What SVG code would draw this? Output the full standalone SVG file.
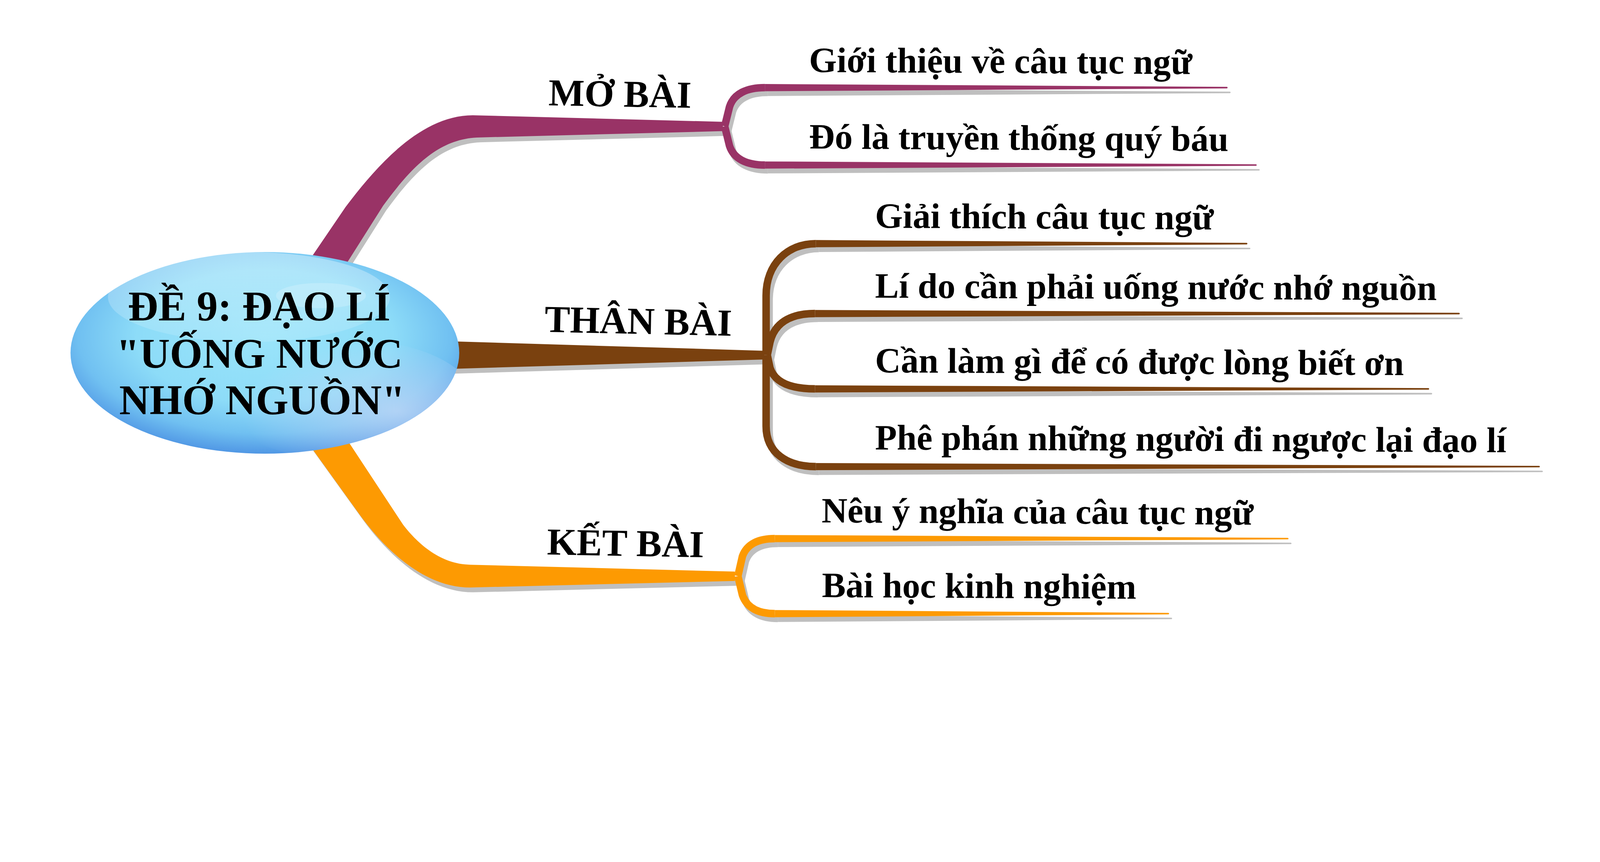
<svg xmlns="http://www.w3.org/2000/svg" xmlns:xlink="http://www.w3.org/1999/xlink" width="5334" height="2206" viewBox="0 0 5334 2206" style="max-width:100vw;height:auto;display:block">
<style>
.t{font-family:"Liberation Serif","Times New Roman","DejaVu Serif",serif;font-weight:bold;fill:#000}
.center{font-size:140px;text-anchor:middle}
.lbl{font-size:127px}
.leaf{font-size:119px}
.arm{fill:none;stroke:currentColor;stroke-width:25;stroke-linejoin:round}
.bar{fill:currentColor;stroke:none}
</style>
<defs>
<radialGradient id="gBase" cx="0.5" cy="0.42" r="0.6">
<stop offset="0" stop-color="#9ae4fa"/>
<stop offset="0.55" stop-color="#8ddcf8"/>
<stop offset="0.8" stop-color="#70c0f1"/>
<stop offset="1" stop-color="#4a8fe2"/>
</radialGradient>
<linearGradient id="gHi" x1="0" y1="0" x2="0" y2="1">
<stop offset="0" stop-color="#ffffff" stop-opacity="0.35"/>
<stop offset="1" stop-color="#ffffff" stop-opacity="0.12"/>
</linearGradient>
<radialGradient id="gSheen" cx="0.7" cy="0.6" r="0.6">
<stop offset="0" stop-color="#c2d9f7" stop-opacity="0.8"/>
<stop offset="1" stop-color="#c2d9f7" stop-opacity="0"/>
</radialGradient>
<clipPath id="cEll"><ellipse cx="883" cy="1176" rx="648" ry="336"/></clipPath>
<g id="brMo">
<path class="bar" d="M975 950 L1152 690 C1250 560 1400 384 1576 384 L2410 406 L2410 437 L1600 458 C1470 460 1380 545 1277 686 L1110 950 Z"/>
<path class="arm" d="M2416 421 L2432 356 C2446 312 2490 292 2550 292"/>
<path class="bar" d="M2550 280 L4090 289.5 A2.5 2.5 0 0 1 4090 294.5 L2550 304 Z"/>
<path class="arm" d="M2416 421 L2432 486 C2446 530 2490 550 2550 550"/>
<path class="bar" d="M2550 538 L4187 547.5 A2.5 2.5 0 0 1 4187 552.5 L2550 562 Z"/>
</g>
<g id="brThan">
<path class="bar" d="M1450 1136 L2548 1169 L2548 1198 L1450 1231 Z"/>
<path class="arm" d="M2554 1183 L2554 985 C2554 880 2625 812 2720 812"/>
<path class="bar" d="M2720 800 L4156 809.5 A2.5 2.5 0 0 1 4156 814.5 L2720 824 Z"/>
<path class="arm" d="M2558 1183 L2567 1140 C2582 1078 2632 1045 2717 1045"/>
<path class="bar" d="M2717 1033 L4864 1042.5 A2.5 2.5 0 0 1 4864 1047.5 L2717 1057 Z"/>
<path class="arm" d="M2558 1183 L2567 1226 C2582 1272 2632 1296 2717 1296"/>
<path class="bar" d="M2717 1284 L4762 1293.5 A2.5 2.5 0 0 1 4762 1298.5 L2717 1308 Z"/>
<path class="arm" d="M2554 1183 L2554 1420 C2554 1510 2625 1555 2720 1555"/>
<path class="bar" d="M2720 1543 L5131 1552.5 A2.5 2.5 0 0 1 5131 1557.5 L2720 1567 Z"/>
</g>
<g id="brKet">
<path class="bar" d="M972 1400 L1201 1718 C1290 1840 1420 1958 1567 1958 L2450 1936 L2450 1905 L1567 1882 C1470 1880 1395 1815 1344 1749 L1114 1400 Z"/>
<path class="arm" d="M2460 1920 L2475 1854 C2490 1812 2530 1795 2583 1795"/>
<path class="bar" d="M2583 1783 L4293 1792.5 A2.5 2.5 0 0 1 4293 1797.5 L2583 1807 Z"/>
<path class="arm" d="M2460 1920 L2475 1983 C2490 2027 2530 2045 2583 2045"/>
<path class="bar" d="M2583 2033 L3895 2042.5 A2.5 2.5 0 0 1 3895 2047.5 L2583 2057 Z"/>
</g>
</defs>
<rect width="5334" height="2206" fill="#ffffff"/>
<g id="connectors">
<g id="shadows" transform="translate(10,16)" color="#bfbfbf">
<use xlink:href="#brMo" href="#brMo"/>
<use xlink:href="#brThan" href="#brThan"/>
<use xlink:href="#brKet" href="#brKet"/>
</g>
<use id="conn-mo" xlink:href="#brMo" href="#brMo" color="#993366"/>
<use id="conn-than" xlink:href="#brThan" href="#brThan" color="#7a410f"/>
<use id="conn-ket" xlink:href="#brKet" href="#brKet" color="#fd9a02"/>
</g>
<g id="node-center">
<ellipse cx="883" cy="1176" rx="648" ry="336" fill="url(#gBase)"/>
<g clip-path="url(#cEll)">
<ellipse cx="1150" cy="1330" rx="430" ry="200" fill="url(#gSheen)"/>
</g>
<ellipse cx="830" cy="990" rx="470" ry="150" fill="url(#gHi)"/>
<ellipse cx="1070" cy="985" rx="150" ry="42" fill="#ffffff" fill-opacity="0.2"/>
<text class="t center" x="864" y="1068">ĐỀ 9: ĐẠO LÍ</text>
<text class="t center" x="865" y="1226">"UỐNG NƯỚC</text>
<text class="t center" x="874" y="1381">NHỚ NGUỒN"</text>
</g>
<g id="node-mobai"><text class="t lbl" x="1828" y="351" transform="rotate(1 1828 351)">MỞ BÀI</text></g>
<g id="node-thanbai"><text class="t lbl" x="1815" y="1106" transform="rotate(1.2 1815 1106)">THÂN BÀI</text></g>
<g id="node-ketbai"><text class="t lbl" x="1823" y="1848" transform="rotate(1 1823 1848)">KẾT BÀI</text></g>
<g id="leaf-1"><text class="t leaf" x="2697" y="240" transform="rotate(0.3 2697 240)">Giới thiệu về câu tục ngữ</text></g>
<g id="leaf-2"><text class="t leaf" x="2697" y="495" transform="rotate(0.35 2697 495)">Đó là truyền thống quý báu</text></g>
<g id="leaf-3"><text class="t leaf" x="2917" y="759" transform="rotate(0.3 2917 759)">Giải thích câu tục ngữ</text></g>
<g id="leaf-4"><text class="t leaf" x="2917" y="992" transform="rotate(0.25 2917 992)">Lí do cần phải uống nước nhớ nguồn</text></g>
<g id="leaf-5"><text class="t leaf" x="2917" y="1241" transform="rotate(0.3 2917 1241)">Cần làm gì để có được lòng biết ơn</text></g>
<g id="leaf-6"><text class="t leaf" x="2917" y="1498" transform="rotate(0.25 2917 1498)">Phê phán những người đi ngược lại đạo lí</text></g>
<g id="leaf-7"><text class="t leaf" x="2739" y="1741" transform="rotate(0.3 2739 1741)">Nêu ý nghĩa của câu tục ngữ</text></g>
<g id="leaf-8"><text class="t leaf" x="2740" y="1990" transform="rotate(0.3 2740 1990)">Bài học kinh nghiệm</text></g>
</svg>
